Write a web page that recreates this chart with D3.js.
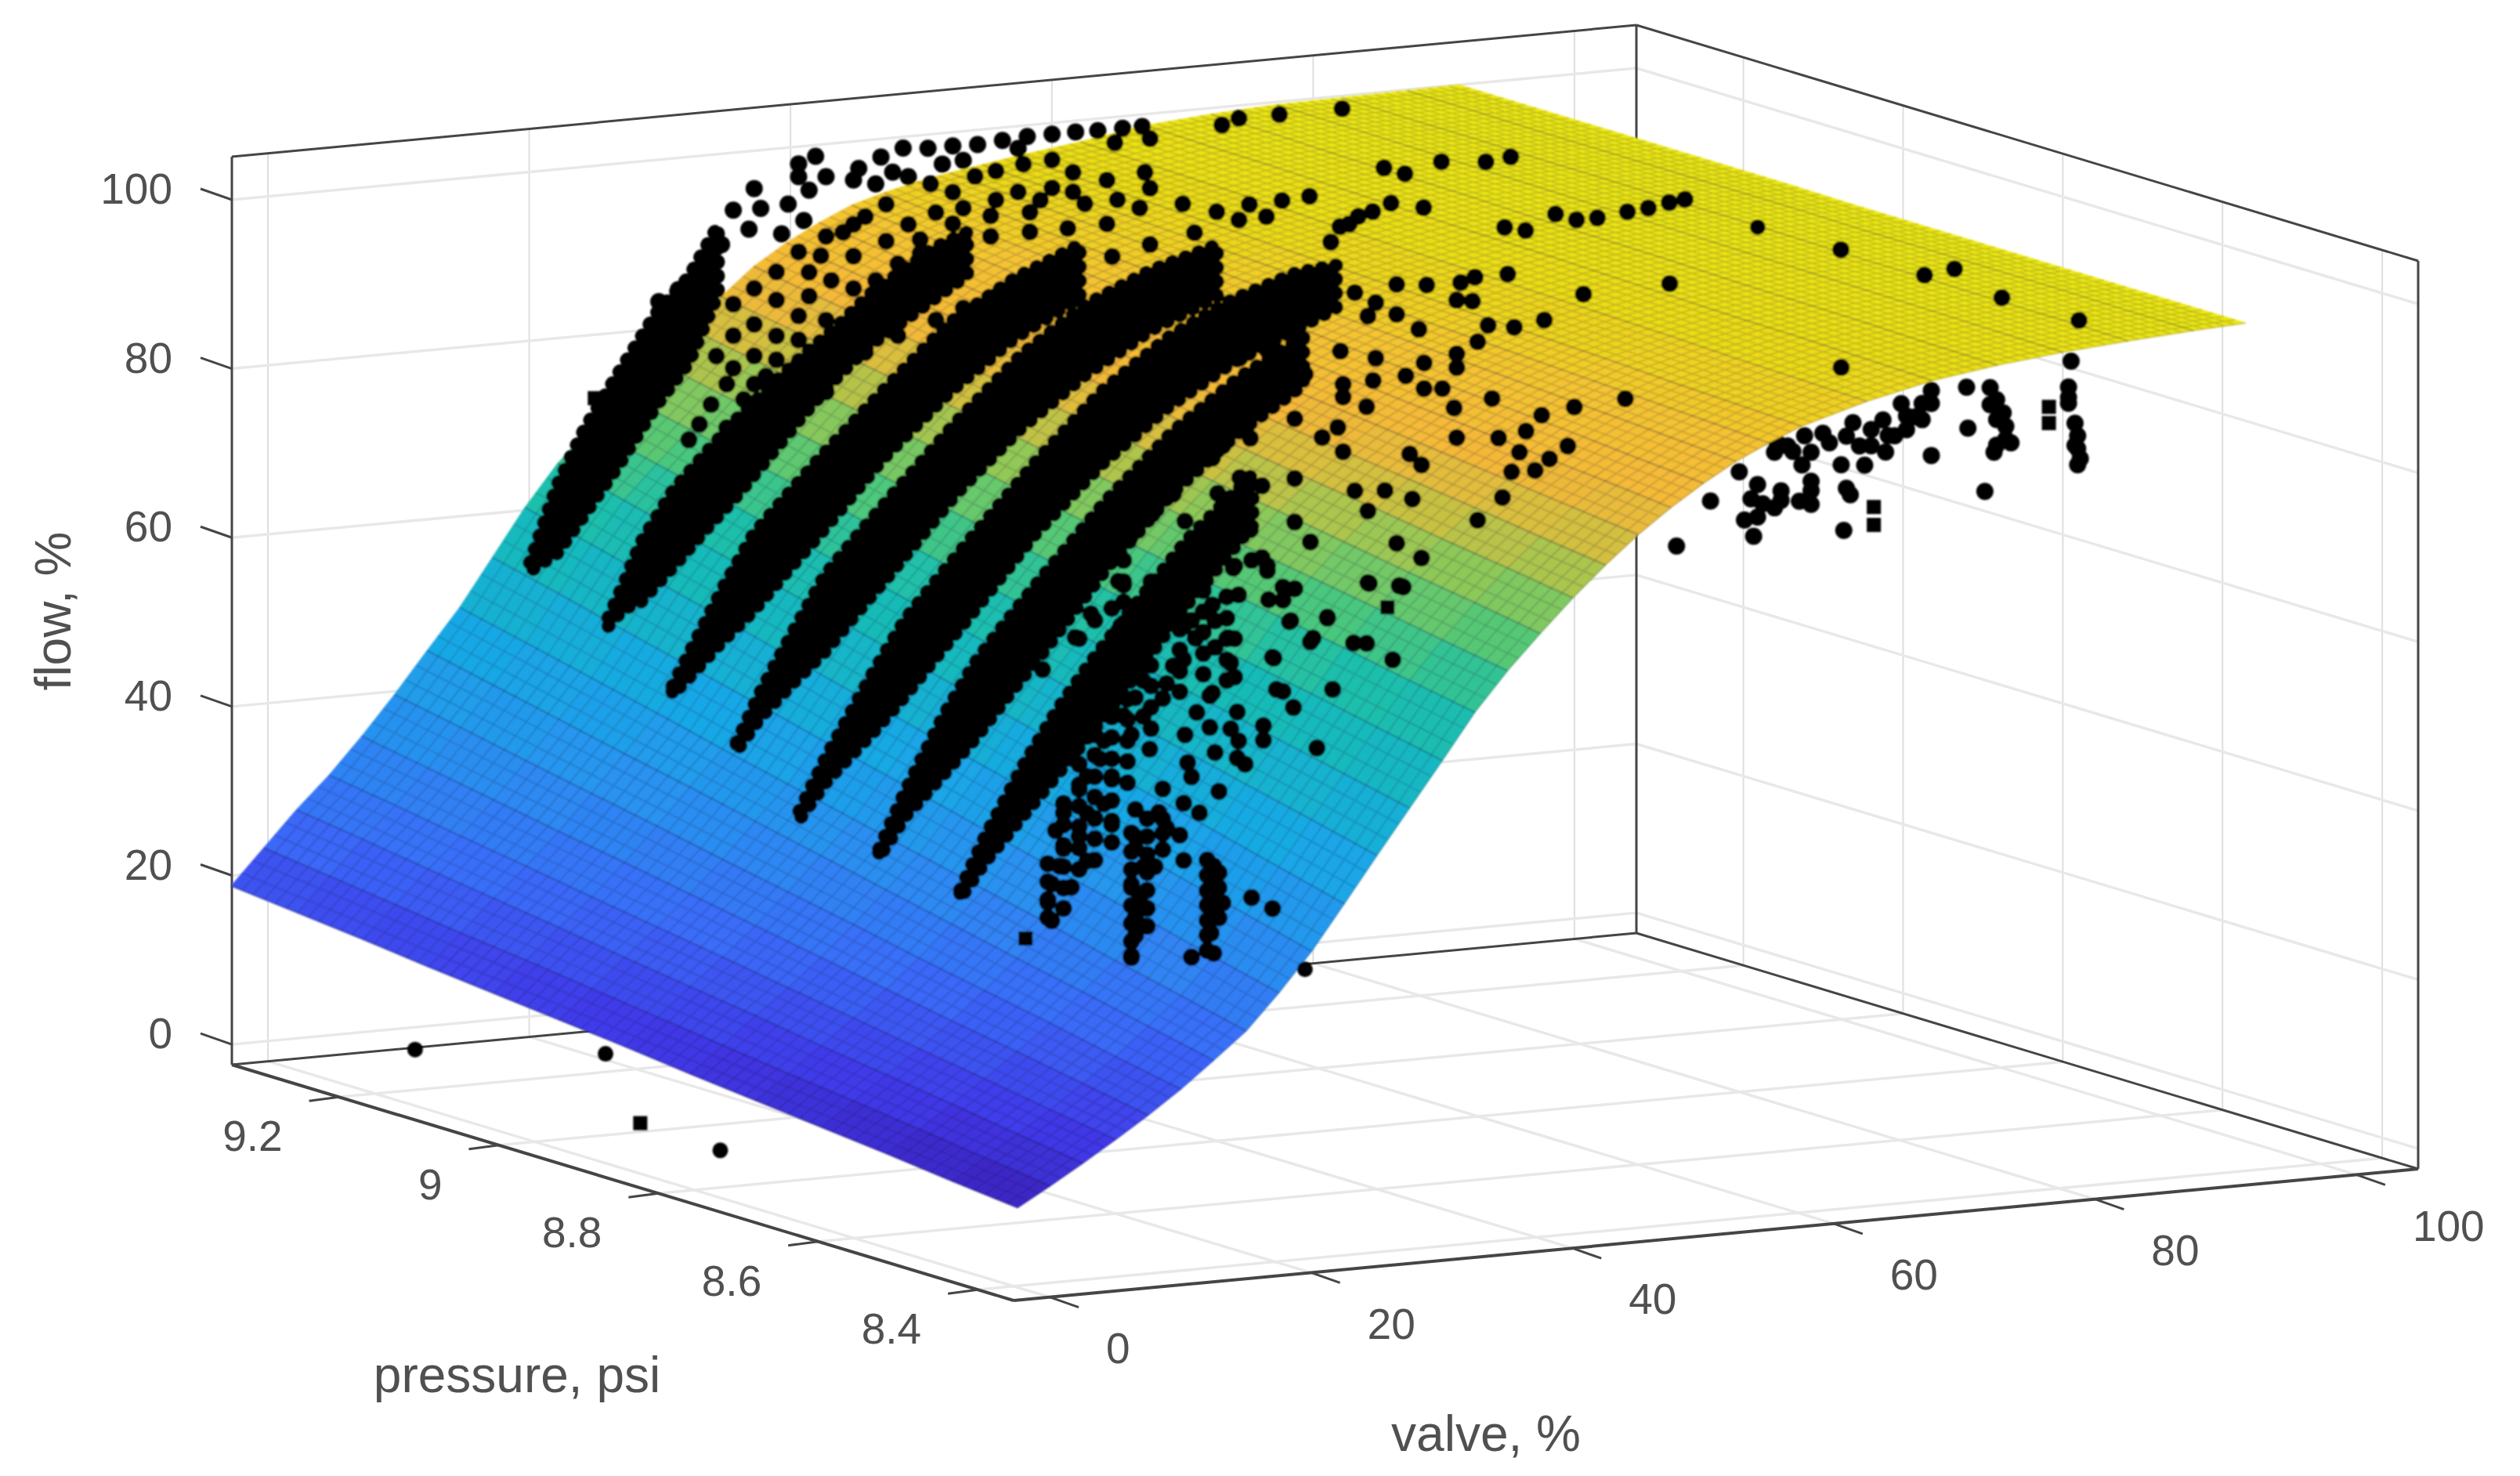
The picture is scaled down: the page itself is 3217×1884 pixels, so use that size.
<!DOCTYPE html>
<html lang="en">

<head>
    <meta charset="UTF-8">
    <title>Valve flow surface</title>
    <script src="https://d3js.org/d3.v7.min.js"></script>
    <style>
        body { margin: 0; background: #fff; }
        text { font-family: "Liberation Sans", Arial, sans-serif; fill: #505050; }
    </style>
</head>

<body>
    <svg></svg>
</body>

<script>
    // ---- axes ----
    const valveTicks = [0, 20, 40, 60, 80, 100];
    const pressureTicks = [8.4, 8.6, 8.8, 9, 9.2];
    const flowTicks = [0, 20, 40, 60, 80, 100];

    // ---- fitted surface: one line per valve column, 13 pressure rows read across ----
    const valveColumns = [-3.3, -0.8, 1.7, 4.2, 6.7, 9.2, 11.7, 14.2, 16.7, 19.2, 21.7, 24.2, 26.7, 29.2, 31.7, 34.2,
        36.7, 39.2, 41.7, 44.2, 46.7, 49.2, 51.7, 54.2, 56.7, 61.7, 66.7, 71.7, 76.7, 81.7, 86.7, 90.7];
    const pressureRows = [8.35, 8.432, 8.514, 8.596, 8.678, 8.76, 8.842, 8.924, 9.006, 9.088, 9.17, 9.252, 9.335];
    const flowGrid = [
        [8.5, 9.3, 10.2, 11, 11.8, 12.6, 13.5, 14.3, 15.1, 15.9, 16.8, 17.6, 18.4],
        [10.7, 11.7, 12.7, 13.7, 14.6, 15.6, 16.6, 17.6, 18.6, 19.5, 20.5, 21.5, 22.5],
        [13, 14.1, 15.3, 16.4, 17.5, 18.7, 19.8, 20.9, 22.1, 23.2, 24.3, 25.5, 26.6],
        [15.4, 16.6, 17.9, 19.1, 20.4, 21.6, 22.9, 24.1, 25.3, 26.6, 27.8, 29.1, 30.3],
        [17.9, 19.3, 20.7, 22, 23.4, 24.8, 26.2, 27.6, 29, 30.3, 31.7, 33.1, 34.5],
        [20.6, 22.1, 23.7, 25.2, 26.7, 28.3, 29.8, 31.3, 32.9, 34.4, 35.9, 37.5, 39],
        [23.6, 25.3, 27, 28.6, 30.3, 32, 33.7, 35.4, 37.1, 38.7, 40.4, 42.1, 43.8],
        [26.7, 28.5, 30.3, 32.2, 34, 35.8, 37.6, 39.4, 41.2, 43.1, 44.9, 46.7, 48.5],
        [30.8, 32.7, 34.7, 36.6, 38.5, 40.5, 42.4, 44.3, 46.3, 48.2, 50.1, 52.1, 54],
        [35.3, 37.3, 39.3, 41.4, 43.4, 45.4, 47.4, 49.4, 51.4, 53.5, 55.5, 57.5, 59.5],
        [40.5, 42.5, 44.5, 46.5, 48.4, 50.4, 52.4, 54.4, 56.4, 58.4, 60.3, 62.3, 64.3],
        [45.8, 47.7, 49.5, 51.4, 53.2, 55.1, 57, 58.8, 60.7, 62.5, 64.4, 66.2, 68.1],
        [51, 52.7, 54.4, 56.2, 57.9, 59.6, 61.3, 63, 64.7, 66.5, 68.2, 69.9, 71.6],
        [56.2, 57.8, 59.4, 60.9, 62.5, 64.1, 65.7, 67.3, 68.9, 70.4, 72, 73.6, 75.2],
        [61.5, 62.9, 64.4, 65.8, 67.2, 68.7, 70.1, 71.5, 73, 74.4, 75.8, 77.3, 78.7],
        [66, 67.3, 68.7, 70, 71.3, 72.7, 74, 75.3, 76.7, 78, 79.3, 80.7, 82],
        [70, 71.3, 72.5, 73.8, 75.1, 76.3, 77.6, 78.9, 80.1, 81.4, 82.7, 83.9, 85.2],
        [73.8, 75, 76.1, 77.3, 78.4, 79.6, 80.7, 81.9, 83, 84.2, 85.3, 86.5, 87.6],
        [77.3, 78.3, 79.4, 80.4, 81.4, 82.4, 83.5, 84.5, 85.5, 86.5, 87.6, 88.6, 89.6],
        [80.5, 81.4, 82.3, 83.2, 84.1, 85, 85.9, 86.8, 87.7, 88.6, 89.5, 90.4, 91.3],
        [83.3, 84.1, 84.8, 85.6, 86.3, 87.1, 87.9, 88.6, 89.4, 90.1, 90.9, 91.6, 92.4],
        [85.8, 86.4, 87.1, 87.7, 88.3, 88.9, 89.6, 90.2, 90.8, 91.4, 92, 92.7, 93.3],
        [88, 88.5, 89, 89.5, 90, 90.5, 91, 91.5, 92, 92.5, 93, 93.5, 94],
        [89.8, 90.2, 90.6, 91, 91.4, 91.8, 92.2, 92.6, 93, 93.4, 93.8, 94.2, 94.6],
        [91.4, 91.7, 92, 92.4, 92.7, 93, 93.3, 93.6, 93.9, 94.3, 94.6, 94.9, 95.2],
        [93.6, 93.8, 94, 94.3, 94.5, 94.7, 94.9, 95.1, 95.3, 95.6, 95.8, 96, 96.2],
        [95.3, 95.5, 95.7, 95.8, 96, 96.2, 96.4, 96.5, 96.7, 96.9, 97.1, 97.2, 97.4],
        [96.4, 96.5, 96.7, 96.8, 96.9, 97.1, 97.2, 97.3, 97.5, 97.6, 97.7, 97.9, 98],
        [97.2, 97.3, 97.4, 97.5, 97.6, 97.7, 97.8, 97.9, 98, 98.1, 98.2, 98.3, 98.4],
        [97.8, 97.9, 97.9, 98, 98, 98.1, 98.2, 98.2, 98.3, 98.3, 98.4, 98.4, 98.5],
        [98.3, 98.3, 98.4, 98.4, 98.4, 98.4, 98.5, 98.5, 98.5, 98.5, 98.5, 98.6, 98.6],
        [98.6, 98.6, 98.6, 98.6, 98.6, 98.6, 98.6, 98.7, 98.7, 98.7, 98.7, 98.7, 98.7]
    ];

    // ---- dense runs at each supply pressure: [valve, flow low, flow high] ----
    const runPressures = [9.28, 9.19, 9.09, 9.0, 8.9, 8.81, 8.71];
    const runBands = [
        [[16.2, 54, 55], [18.3, 55.8, 63.8], [20.4, 60, 70], [23, 65.4, 76.2], [25.9, 72, 82.8], [28.4, 76.7, 86.7], [30.6, 84.3, 92.3]],
        [[16.7, 50, 51], [17.9, 51.9, 54.9], [19.2, 52.5, 59.5], [21.7, 56.3, 65.3], [24.2, 60.3, 69.3], [26.7, 64.1, 73.1], [29.2, 68.4, 76.4], [31.7, 72.7, 79.7], [34.2, 76.6, 82.6], [36.7, 80, 86], [41.7, 84.8, 90.8], [44.2, 87.2, 92.2]],
        [[15.5, 45, 46], [16.9, 47, 50], [19.2, 50.5, 56.5], [21.7, 53.9, 62.9], [24.2, 58, 67], [26.7, 62, 71], [31.7, 70.4, 78.4], [36.7, 77.3, 85.5], [41.7, 83, 90], [46.7, 87, 93.2]],
        [[14.9, 41, 42], [16.7, 44.6, 47.6], [19.2, 48.3, 54.3], [21.7, 51.7, 60.7], [24.2, 56, 65], [26.7, 60.1, 69.1], [31.7, 68.7, 77.1], [36.7, 75.7, 84.3], [41.7, 81.3, 89.5], [46.7, 85.8, 92.8], [51.7, 89, 95]],
        [[13.6, 36, 37], [15.7, 40.2, 43.2], [19.2, 45.3, 52.3], [21.7, 49.3, 58.3], [24.2, 53.7, 62.7], [26.7, 58, 67], [31.7, 66.9, 75.3], [36.7, 74.2, 82.8], [41.7, 80.1, 88.3], [46.7, 84.7, 92.1], [51.7, 88, 94.6], [54.7, 90, 95]],
        [[14.2, 34, 35], [16.2, 38.5, 41.5], [19.2, 43.1, 50.1], [21.7, 47.1, 56.1], [24.2, 51.7, 60.7], [26.7, 56.1, 65.1], [31.7, 65.5, 73.5], [36.7, 73.5, 80.7], [41.7, 79.8, 86.2], [46.7, 84.7, 90.3]],
        [[14.3, 32, 33], [16.2, 36, 39], [19.2, 41.1, 47.1], [21.7, 45.4, 53], [24.2, 49.7, 58.1], [26.7, 54.3, 62.7], [31.7, 64, 71.6], [36.7, 72.5, 78.5]]
    ];

    // ---- single measurements: [valve, flow], grouped by pressure ----
    // hidden under the surface, pressure 8.5
    const underP85 = [
        [86.5, 90.5], [86.3, 87.5], [86.3, 86.3], [86.8, 83.2], [87, 81.7], [87, 80.2], [87, 78.3],
        [80.3, 88.3], [80.8, 86.8], [81.3, 85.2], [81.5, 83.6], [81.5, 82.1], [80.6, 80.7], [78.6, 83.8], [78.5, 88.6],
        [75.8, 81], [79.9, 76.2], [75.8, 88.6], [75.1, 87.2], [74.6, 85.7], [73.9, 84.3], [72.5, 83.8], [71.2, 84.7],
        [69.8, 85.7], [70.3, 82.9], [72.3, 81.9], [68.9, 80.9], [70.7, 80.6], [64.8, 83.7], [66.1, 84.7], [63.8, 83.1],
        [67.5, 84.8], [65.9, 81.3], [61.1, 81.2], [62.5, 79.5], [62.9, 77.2], [64.3, 77.4], [66.6, 78.2], [66.6, 76.6],
        [69.6, 77.3], [69.1, 73.2], [61.5, 75.5], [62.2, 73.5], [58.9, 78.1], [56.3, 73.2],
        [73.5, 87.4], [72.1, 85.7], [73.9, 85.9], [73, 83.7], [75.1, 85.3], [71.2, 82.8], [69.3, 84.2], [75.8, 87.1], [68, 83.6],
        [65.2, 83], [66.6, 82.7], [64, 84.2], [80.3, 86.3], [81.9, 81.6], [80.8, 81.5], [80.8, 84.5], [86.3, 85.6], [86.8, 80.6], [87.2, 79],
        [62, 77.9], [63.8, 76.6], [65.7, 77.1], [66.6, 79.3], [62.5, 75.7], [64.3, 78.5], [69.3, 78.1]
    ];
    const pointsP85 = [[81.2, 98.7], [87.1, 95.2], [68.9, 92.3]];
    const pointsP87 = [
        [81.1, 98.7], [87.5, 94.8], [89.8, 95.2], [68, 96.6], [61.4, 96.3],
        [47.1, 99.5], [43.9, 99], [49.4, 99.1], [52, 99], [53.1, 99.5], [51.7, 97], [52.9, 96.7], [55.6, 99.5], [45.5, 97.6],
        [44.9, 96.1], [47.1, 96], [48.8, 94], [54.1, 93.7], [56.1, 93.2], [58.4, 93.7], [42.8, 92.3], [45.5, 91.1],
        [51.7, 90.7], [53.3, 91.9], [49.2, 90], [51.7, 89.1], [47.8, 88.7], [45.3, 88.5], [43, 88.4], [43, 86.9],
        [44.8, 85.5], [49.2, 87], [50.6, 86.8], [54.4, 85.1], [51.5, 84.4], [58.2, 82.6], [60.7, 83.2], [64.6, 83.6],
        [57, 80.9], [54.9, 80.4], [60.2, 78.7], [58.8, 77.4], [56.5, 78.5], [55.9, 76.3], [57.7, 76.2], [51.7, 80.9],
        [48.1, 79.5], [49, 78.1], [43, 80.5], [42.6, 83.4], [43.9, 75.8], [46.2, 75.5], [48.3, 74.2], [44.9, 73.3],
        [55.2, 73.4], [53.3, 71], [47.1, 69.2], [49, 67.2], [44.9, 64.9], [47.6, 64],
        [45, 64.8], [47.3, 64.2], [41.8, 61.3], [39, 61.3], [40.7, 59], [37.7, 57.1], [43.8, 58], [44.8, 57.8], [46.8, 55.6],
        [42.2, 52.8], [38.4, 53.1], [39.2, 51.1], [32.8, 53.4], [31.8, 51.6], [34.9, 51.2], [36.9, 49.3], [32.8, 49.7],
        [34.4, 49.3], [30.9, 49.1], [35, 47.8], [36.9, 47.6], [33.2, 46.7], [34.9, 45.8], [35.5, 45], [41, 46.1], [31.1, 45.8],
        [29.2, 43], [31.4, 44.1], [33.5, 42.1], [30.8, 41.1], [32, 39.8], [27.1, 40.9], [28.9, 40.3], [29.5, 38.4],
        [30.5, 37.4], [30.8, 34.4], [34.6, 68.1], [36, 68.8], [37.2, 67.4], [38.4, 65.3], [38.4, 63.8], [37.3, 64], [35, 64.9],
        [31.4, 62.4], [33.2, 62.1], [34.7, 59.8], [33.2, 59], [31.7, 60.3], [30.8, 57.9], [34.4, 57], [34.7, 55.3],
        [29.5, 55.3], [27.7, 55.9], [29.2, 53.6], [30.8, 61.8], [29.2, 64.1], [27.7, 65], [26.2, 67.3], [25.3, 64.7],
        [24, 63.5], [22.8, 61.5], [26.2, 60.9], [24.7, 59.8], [25.6, 56.9], [27.1, 54], [27.7, 51.7], [26.2, 52],
        [26.8, 49.7], [28.2, 47.8], [24.7, 49.3], [24.4, 47.2], [25.3, 45], [23.4, 45.3], [22.8, 43.9], [24.7, 41.9],
        [23.4, 41], [25.3, 39.4], [21.6, 41.3], [21, 39.3], [22.8, 38.4], [21.6, 37.1], [23.4, 35.4], [21.3, 35.1],
        [20.7, 33.1], [20.4, 31], [20.7, 28.8], [22.2, 32.5],
        [27.1, 37.7], [27.1, 36.3], [27.7, 34.1], [26.8, 32.2], [27.4, 30.3], [27.1, 28.3], [27.1, 26.1], [26.8, 23.8], [29.2, 35.9], [28.6, 34],
        [33.1, 33.4], [33.2, 31.6], [33.1, 29.5], [33.2, 27.7], [32.9, 25.6], [33.1, 23.2], [31.4, 23], [33.8, 29], [36, 29.3], [37.6, 27.8],
        [35.1, 92.6], [37.2, 93.2], [39.3, 94.8], [37.2, 90], [40.1, 90], [35.9, 83.1], [39.3, 84.9], [41.4, 82.4], [39.3, 77.9],
        [35.1, 78.6], [33.8, 82.5], [36.8, 77.4], [30.9, 79.2], [33.4, 77], [30, 77.4], [28.4, 75.3], [30.9, 74.1], [33.8, 75],
        [35.9, 72.4], [39.3, 72.8], [40.5, 70.3], [37.2, 68], [34.7, 68.3], [39.3, 65], [36.8, 69], [38.9, 61.2], [40.5, 58.6],
        [37.6, 57.2], [41.8, 61.2], [26.7, 72.8], [25.8, 67.8], [28.8, 66], [33, 64], [34.2, 60], [31.7, 60.3], [28.8, 63.1],
        [25.8, 62], [22.5, 61.7], [27.9, 59.1], [30, 57.3], [23.3, 68.6], [20.8, 66.6], [23.7, 64.3], [20, 58.3], [16.2, 58.8],
        [25, 56.6], [33, 53.7], [37.9, 53.4], [33, 81.2],
        // the three lowest runs, close packed
        [32.6, 34.2], [32.6, 32.4], [32.6, 30.6], [32.6, 28.9], [32.6, 27.1], [32.6, 25.4], [32.6, 23.6], [33.5, 32.6], [33.5, 30.8], [33.5, 29.1], [33.5, 27.3],
        [26.8, 38.2], [26.8, 36], [26.8, 33.9], [26.8, 31.8], [26.8, 29.7], [26.8, 27.6], [26.8, 25.5], [26.8, 23.6],
        [28, 39.7], [28, 37.6], [28, 35.5], [28, 33.4], [28, 31.3], [28, 29.2], [28, 27.1], [29.2, 39.5], [29.2, 37.8],
        [20.4, 29.2], [20.4, 31.3], [20.4, 33.4], [20.4, 35.5], [21.6, 30.1], [21.6, 32.5], [21.6, 35], [21.6, 37.5], [21.6, 39.9], [21.6, 42.4],
        [22.8, 34.5], [22.8, 37], [22.8, 39.5], [22.8, 41.9], [22.8, 44.4], [22.8, 46.8],
        [24, 35.4], [24, 37.9], [24, 40.3], [24, 42.8], [24, 45.2], [24, 47.7], [24, 50.1], [24, 52.6], [24, 55],
        [25.3, 37.3], [25.3, 39.8], [25.3, 42.2], [25.3, 44.7], [25.3, 47.1], [25.3, 49.6], [25.3, 52],
        [26.5, 44.1], [26.5, 46.6], [26.5, 49], [26.5, 51.5], [26.5, 53.9], [26.5, 56.4],
        [28.3, 50.2], [28.3, 52.7], [28.3, 55.2], [28.3, 57.6], [28.3, 60.1], [28.3, 62.5], [28.3, 65], [28.3, 67.4],
        [30.5, 54.2], [30.5, 56.6], [30.5, 59.1], [30.5, 61.5], [30.5, 64], [30.5, 66.4], [30.5, 68.9],
        [32.3, 56], [32.3, 58.4], [32.3, 60.9], [32.3, 63.3], [32.3, 65.8],
        [34.1, 55], [34.1, 57.4], [34.1, 59.9], [34.1, 62.3], [34.1, 64.8],
        [26.2, 62.8], [26.2, 65.3], [26.2, 67.7], [26.2, 70.2]
    ];
    const pointsP90 = [
        [65, 98], [67.5, 97.1], [62.5, 96.8], [61.1, 95.8], [60.4, 94.1], [63.6, 97.2], [61.8, 96],
        [73.7, 93.9], [75.3, 93.3], [77.6, 94.9], [79.2, 94], [80.8, 94], [83.1, 94.4], [84.7, 94.6], [86.3, 95], [87.5, 95.2]
    ];
    const pointsP93 = [
        [79.6, 98.5], [87.2, 91.2], [92.5, 91], [90.6, 90.7], [82.8, 91.1], [84.4, 90.2], [71.7, 98.5], [74.8, 98.5], [70.4, 97.9],
        [47.9, 98.4], [49.8, 98.4], [51.7, 98.3], [53.6, 98.5], [55.5, 98.7], [57.4, 98.7], [59.2, 98.7], [60.9, 98.6], [62.8, 98.6],
        [64.3, 98.6], [64.9, 97.1], [62.2, 97], [42.6, 96.8], [42.2, 95.5], [44.3, 97.9], [46, 98.7], [45.2, 96], [38, 98], [39.3, 98.7],
        [38, 96.5], [40.1, 96.2], [38.8, 94.8], [37.2, 93.4], [34.6, 95.6], [33, 93.3], [35.1, 93.2], [38.4, 91.3], [36.7, 90], [34.2, 90.9],
        [32.1, 89.4], [30.4, 86], [28.8, 84.6], [27.3, 83.4], [30.9, 84.1],
        [48.1, 94.2], [49.8, 93], [51.5, 94.6], [50.6, 91], [48.5, 90.8], [46.4, 89.7], [44.7, 92.3], [43.1, 91.1], [41.4, 89.5], [44.7, 88],
        [42.2, 86.6], [39.7, 87], [38.8, 85.2], [40.5, 84], [38.8, 82.4], [38, 80.2], [36.3, 82.3], [34.6, 79.7], [33, 78.6], [31.7, 76.4],
        [34.6, 76], [33, 74.8], [35.5, 73.5], [32.5, 73], [33.8, 71], [35.5, 70.7], [31.3, 70.8], [30.4, 68.6], [32.5, 67.9], [29.6, 66.9],
        [57.4, 95.7], [59, 94], [55.2, 95.5], [54.8, 92.3], [57.4, 92.4], [53.1, 91.6], [55.7, 89.8], [59.9, 90.2], [62.4, 90.3], [64.9, 91.3],
        [64.1, 89.1], [61.6, 87.6], [58.6, 87.5], [55.7, 87.5], [52.7, 87.4], [50.6, 87.3], [48.9, 86.1], [47.3, 86.2], [50.6, 83.5], [48.1, 82],
        [45.6, 80.5], [43.9, 79], [42.2, 78.2], [41.4, 76], [39.7, 74.9], [43.1, 75.2], [45.6, 76.8], [48.5, 78.2], [50.6, 79.3], [53.1, 80.3],
        [55.7, 81.9], [59, 82.8], [62, 83.7], [64.9, 84.7], [68.3, 85.6], [71.7, 86.6], [73.8, 86.7],
        [33, 82.3], [34.6, 83.9], [36.3, 85.6], [38, 87.7], [40.1, 89.2], [42.2, 90.3], [43.9, 94.8], [46.4, 95.3], [49, 96.4], [53.1, 95],
        [54.8, 97.4], [50.6, 96.6], [36.3, 78.1], [38, 77.4], [40.1, 79.4], [42.2, 82.8], [43.9, 83.5], [45.6, 85.2], [47.3, 87.8], [49.8, 89.3],
        [52.7, 89.8], [56.5, 91.1], [59, 91.7], [61.6, 92.7], [64.5, 93.2], [67.4, 89.1], [70, 87.8], [72.5, 88.3], [75, 88.4], [77.1, 88.6],
        [36.3, 75.3], [38, 74.6], [34.6, 72.7], [36.7, 69.1], [38.4, 71.7], [40.1, 71], [33.8, 67.2], [31.3, 64.3]
    ];
    // odd ones out: [valve, pressure, flow]
    const otherPoints = [[6.2, 9.26, 0], [16.5, 9.19, 0], [4.5, 8.85, 0], [73.7, 9.25, 0], [83.9, 8.85, 96.7]];
    const squarePoints = [[5.1, 8.96, 0], [22.4, 9.3, 72.8], [18.7, 8.7, 27], [46.4, 8.7, 61.8]];
    const underSquares = [[71.4, 8.5, 75.6], [71.4, 8.5, 73.5], [84.8, 8.5, 85.4], [84.8, 8.5, 83.5]];

    // ---- page and box ----
    const width = 3217, height = 1884;
    const svg = d3.select("svg").attr("width", width).attr("height", height);

    // box edges on screen, from the front floor corner
    const origin = { x: 1294, y: 1660 };
    const valveEdge = { x: 1793, y: -168 }, pressureEdge = { x: -998, y: -301 }, flowEdge = -1159;

    // each axis scale maps onto 0..1 of its box edge
    const valveScale = d3.scaleLinear().domain([-3.3, 104.2]).range([0, 1]);
    const pressureScale = d3.scaleLinear().domain([8.355, 9.334]).range([0, 1]);
    const flowScale = d3.scaleLinear().domain([-2.5, 103.8]).range([0, 1]);
    // ticks and grid sit a touch differently on the box
    const valveTickScale = d3.scaleLinear().domain([-2.76, 104.74]).range([0, 1]);
    const flowTickScale = d3.scaleLinear().domain([-2.4, 105.1]).range([0, 1]);

    function onBox(a, b, c) {
        return [origin.x + a * valveEdge.x + b * pressureEdge.x,
        origin.y + a * valveEdge.y + b * pressureEdge.y + c * flowEdge];
    }
    const project = (v, p, f) => onBox(valveScale(v), pressureScale(p), flowScale(f));
    const line = d3.line();

    // Grid
    const grid = svg.append("g").attr("fill", "none").attr("stroke", "#e8e8e8").attr("stroke-width", 3.5);
    function gridLine(a, b, color, w) {
        grid.append("path").attr("d", line([a, b])).attr("stroke", color || null).attr("stroke-width", w || null);
    }
    valveTicks.forEach(v => {
        const t = valveTickScale(v);
        gridLine(onBox(t, 0, 0), onBox(t, 1, 0));
        gridLine(onBox(t, 1, 0), onBox(t, 1, 1), "#dedede", 2);
    });
    pressureTicks.forEach(p => {
        const t = pressureScale(p);
        gridLine(onBox(0, t, 0), onBox(1, t, 0));
        gridLine(onBox(1, t, 0), onBox(1, t, 1), "#dedede", 2);
    });
    flowTicks.forEach(f => {
        const t = flowTickScale(f);
        gridLine(onBox(0, 1, t), onBox(1, 1, t));
        gridLine(onBox(1, 1, t), onBox(1, 0, t));
    });

    // Box
    const box = svg.append("g").attr("fill", "none").attr("stroke", "#454545").attr("stroke-width", 3);
    [[[0, 1, 0], [1, 1, 0]], [[1, 1, 0], [1, 0, 0]], [[0, 1, 0], [0, 1, 1]], [[1, 1, 0], [1, 1, 1]], [[1, 0, 0], [1, 0, 1]],
    [[0, 1, 1], [1, 1, 1]], [[1, 1, 1], [1, 0, 1]], [[0, 0, 0], [0, 1, 0]], [[0, 0, 0], [1, 0, 0]]]
        .forEach((e, i) => box.append("path").attr("d", line([onBox(...e[0]), onBox(...e[1])])).attr("stroke-width", i > 6 ? 4 : 3));

    // Ticks
    const ticks = svg.append("g").attr("fill", "none").attr("stroke", "#454545").attr("stroke-width", 3);
    const labels = svg.append("g").attr("font-size", 55);
    valveTicks.forEach(v => {
        const [x, y] = onBox(valveTickScale(v), 0, 0);
        ticks.append("path").attr("d", line([[x, y], [x + 37, y + 13]]));
        labels.append("text").attr("x", x + 72).attr("y", y + 65).attr("dy", "0.35em").text(v);
    });
    pressureTicks.forEach(p => {
        const [x, y] = onBox(0, pressureScale(p), 0);
        ticks.append("path").attr("d", line([[x, y], [x - 38, y + 5]]));
        labels.append("text").attr("x", x - 72).attr("y", y + 50).attr("dy", "0.35em").attr("text-anchor", "end").text(p);
    });
    flowTicks.forEach(f => {
        const [x, y] = onBox(0, 1, flowTickScale(f));
        ticks.append("path").attr("d", line([[x, y], [x - 40, y - 14]]));
        labels.append("text").attr("x", 220).attr("y", y - 14).attr("dy", "0.35em").attr("text-anchor", "end").text(f);
    });

    // Axis titles
    const titles = svg.append("g").attr("font-size", 64).attr("text-anchor", "middle");
    titles.append("text").attr("x", 660).attr("y", 1755).attr("dy", "0.35em").text("pressure, psi");
    titles.append("text").attr("x", 1897).attr("y", 1830).attr("dy", "0.35em").text("valve, %");
    titles.append("text").attr("transform", "translate(68,780) rotate(-90)").attr("dy", "0.35em").text("flow, %");

    // Marks, softened a little like the original
    const blur = svg.append("defs").append("filter").attr("id", "soft")
        .attr("x", 0).attr("y", 0).attr("filterUnits", "userSpaceOnUse")
        .attr("width", width).attr("height", height);
    blur.append("feGaussianBlur").attr("stdDeviation", 1.1);
    const marks = svg.append("g").attr("filter", "url(#soft)");

    function drawDots(rows, pressure) {
        marks.append("g").selectAll("circle").data(rows).join("circle")
            .attr("cx", d => project(d[0], pressure, d[1])[0])
            .attr("cy", d => project(d[0], pressure, d[1])[1])
            .attr("r", 11).attr("fill", "#000");
    }
    function drawTriples(rows, square) {
        const g = marks.append("g");
        rows.forEach(d => {
            const [x, y] = project(...d);
            if (square) g.append("rect").attr("x", x - 9).attr("y", y - 9).attr("width", 18).attr("height", 18).attr("fill", "#000");
            else g.append("circle").attr("cx", x).attr("cy", y).attr("r", 10).attr("fill", "#000");
        });
    }

    // points that the surface hides go first
    drawDots(underP85, 8.5);
    drawTriples(underSquares, true);

    // Surface
    const parula = d3.scaleLinear()
        .domain([8, 15, 25, 35, 45, 55, 62, 68, 74, 79, 84, 90, 95, 100])
        .range(["#3a22b8", "#4038e8", "#3a6cf8", "#2a90f0", "#18a8e6", "#14b8c0", "#20c0a8", "#50c878", "#90c858", "#d0c040", "#f4b838", "#f4c430", "#ecdc18", "#eeee10"]);
    const surface = marks.append("g");
    const fine = [], coarse = [];
    const mix = (a, b, t) => [a[0] + (b[0] - a[0]) * t, a[1] + (b[1] - a[1]) * t];
    for (let i = valveColumns.length - 2; i >= 0; i--) {
        for (let j = pressureRows.length - 2; j >= 0; j--) {
            const a = project(valveColumns[i], pressureRows[j], flowGrid[i][j]);
            const b = project(valveColumns[i + 1], pressureRows[j], flowGrid[i + 1][j]);
            const c = project(valveColumns[i + 1], pressureRows[j + 1], flowGrid[i + 1][j + 1]);
            const d = project(valveColumns[i], pressureRows[j + 1], flowGrid[i][j + 1]);
            const mean = (flowGrid[i][j] + flowGrid[i + 1][j] + flowGrid[i + 1][j + 1] + flowGrid[i][j + 1]) / 4;
            surface.append("path").attr("d", line([a, b, c, d]) + "Z")
                .attr("fill", parula(mean)).attr("stroke", parula(mean)).attr("stroke-width", 1);
            coarse.push(line([a, d]));
            // wire texture inside the facet, thin like the original mesh
            const nv = Math.max(1, Math.round((b[0] - a[0]) / 14)), np = 6;
            for (let k = 1; k < nv; k++) fine.push(line([mix(a, b, k / nv), mix(d, c, k / nv)]));
            for (let k = 0; k < np; k++) fine.push(line([mix(a, d, k / np), mix(b, c, k / np)]));
        }
    }
    marks.append("path").attr("d", fine.join("")).attr("fill", "none").attr("stroke", "#101030").attr("stroke-opacity", 0.2).attr("stroke-width", 1.6);
    marks.append("path").attr("d", coarse.join("")).attr("fill", "none").attr("stroke", "#101040").attr("stroke-opacity", 0.3).attr("stroke-width", 2);

    // Dense runs
    runBands.forEach((band, i) => {
        const p = runPressures[i];
        const outline = band.map(d => project(d[0], p, d[2])).concat(band.slice().reverse().map(d => project(d[0], p, d[1])));
        marks.append("path").attr("d", line(outline) + "Z").attr("fill", "#000")
            .attr("stroke", "#000").attr("stroke-width", 18).attr("stroke-linecap", "round").attr("stroke-linejoin", "round")
            .attr("stroke-dasharray", "1 17");
    });

    // Scattered points
    drawDots(pointsP85, 8.5);
    drawDots(pointsP87, 8.7);
    drawDots(pointsP90, 9.0);
    drawDots(pointsP93, 9.3);
    drawTriples(otherPoints, false);
    drawTriples(squarePoints, true);
</script>

</html>
